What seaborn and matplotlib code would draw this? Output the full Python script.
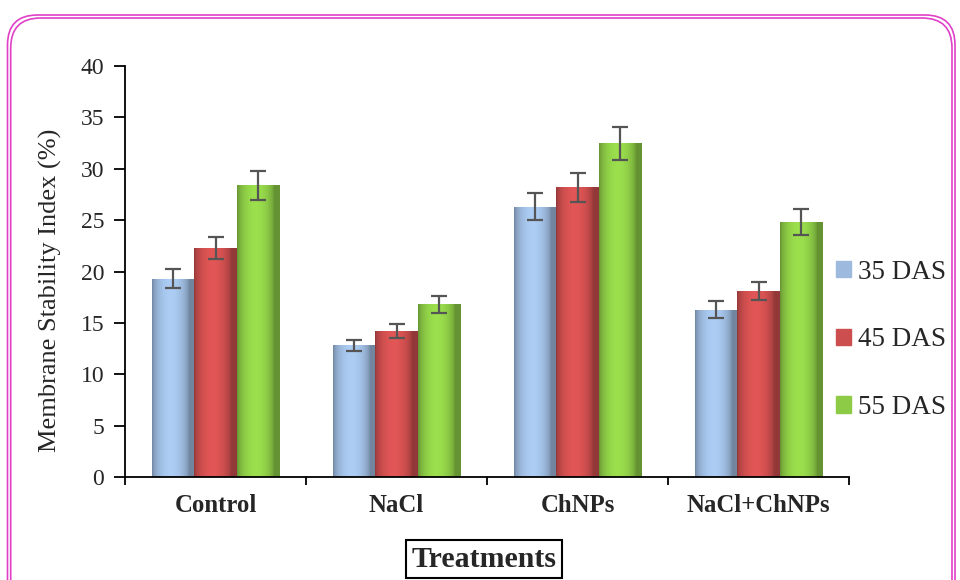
import matplotlib
matplotlib.use("Agg")
import matplotlib.pyplot as plt
import seaborn as sns
import pandas as pd
import numpy as np
from matplotlib.patches import FancyBboxPatch, Patch

# ---------------- data ----------------
treatments = ["Control", "NaCl", "ChNPs", "NaCl+ChNPs"]
stages = ["35 DAS", "45 DAS", "55 DAS"]
das35 = [19.3, 12.8, 26.3, 16.3]
das45 = [22.3, 14.2, 28.2, 18.1]
das55 = [28.4, 16.8, 32.5, 24.8]
err35 = [0.9, 0.55, 1.3, 0.8]
err45 = [1.1, 0.7, 1.4, 0.9]
err55 = [1.4, 0.85, 1.6, 1.25]
yticks = [0, 5, 10, 15, 20, 25, 30, 35, 40]

colors = ["#9dbade", "#cd4e4e", "#8dcb46"]

values = [das35, das45, das55]
errors = [err35, err45, err55]
df = pd.DataFrame({
    "Treatment": [t for s in stages for t in treatments],
    "Stage": [s for s in stages for _ in treatments],
    "MSI": [v for vals in values for v in vals],
})

sns.set_theme(style="white")
plt.rcParams["font.family"] = ["Liberation Serif", "DejaVu Serif"]

fig = plt.figure(figsize=(9.6, 5.8), dpi=100)
ax = fig.add_axes([125 / 960, 1 - 477 / 580, 724 / 960, 411 / 580])

sns.barplot(data=df, x="Treatment", y="MSI", hue="Stage", order=treatments,
            hue_order=stages, palette=colors, errorbar=None, width=0.7,
            saturation=1, ax=ax, legend=False)

# bar shading (simple cylinder-like gradient) + error bars
for cont, errs, col in zip(ax.containers, errors, colors):
    rgb = np.array(matplotlib.colors.to_rgb(col))
    for bar, e in zip(cont, errs):
        x0, w, h = bar.get_x(), bar.get_width(), bar.get_height()
        t = np.linspace(0, 1, 64)
        shade = 0.72 + 0.38 * np.sin(np.pi * np.clip(t * 1.15, 0, 1)) ** 0.6
        img = np.clip(rgb[None, :] * shade[:, None], 0, 1)[None, :, :]
        im = ax.imshow(img, extent=(x0, x0 + w, 0, h), aspect="auto",
                       zorder=bar.get_zorder() + 0.1, interpolation="bilinear")
        im.set_clip_path(bar)
        ax.errorbar(bar.get_x() + w / 2, h, yerr=e, color="#555555",
                    elinewidth=1.6, capsize=5.5, capthick=1.6, zorder=5, fmt="none")

ax.set_xlim(-0.5, 3.5)
ax.set_ylim(0, 40)
ax.set_yticks(yticks)
ax.set_yticklabels([str(v) for v in yticks], fontsize=17)

# group boundaries as major ticks, labels at centers as minor ticks
ax.set_xticks([-0.5, 0.5, 1.5, 2.5, 3.5])
ax.set_xticklabels([])
ax.set_xticks(range(len(treatments)), minor=True)
ax.set_xticklabels(treatments, minor=True, fontsize=17.8, fontweight="bold")
ax.tick_params(axis="x", which="major", direction="out", length=6, width=1.3, color="black", bottom=True)
ax.tick_params(axis="x", which="minor", length=0, pad=12)
ax.tick_params(axis="y", direction="out", length=8, width=1.3, color="black", left=True, pad=7)

for s in ["top", "right"]:
    ax.spines[s].set_visible(False)
for s in ["left", "bottom"]:
    ax.spines[s].set_color("black")
    ax.spines[s].set_linewidth(1.3)

ax.set_ylabel("Membrane Stability Index (%)", fontsize=19)
ax.yaxis.set_label_coords(-0.087, 0.455)
ax.set_xlabel("Treatments", fontsize=21.5, fontweight="bold",
              bbox=dict(boxstyle="square,pad=0.18", facecolor="white", edgecolor="black", linewidth=1.5))
ax.xaxis.set_label_coords(0.496, -0.167)

handles = [Patch(facecolor=c, edgecolor=c) for c in colors]
ax.legend(handles, stages, loc="center left", bbox_to_anchor=(0.871, 0.414),
          bbox_transform=fig.transFigure, frameon=False, fontsize=19.5,
          handlelength=0.55, handleheight=0.55, handletextpad=0.25,
          labelspacing=1.58, borderpad=0, borderaxespad=0)

# magenta double rounded border
for (x0, y0, x1, y1) in [(0.075, -0.5, 9.55, 5.65), (0.107, -0.5, 9.52, 5.62)]:
    fig.patches.append(FancyBboxPatch((x0, y0), x1 - x0, y1 - y0,
                                      boxstyle="round,pad=0,rounding_size=0.3",
                                      transform=fig.dpi_scale_trans, fill=False,
                                      edgecolor="#e040c8", linewidth=1.2))

fig.savefig("out.png", dpi=100)
